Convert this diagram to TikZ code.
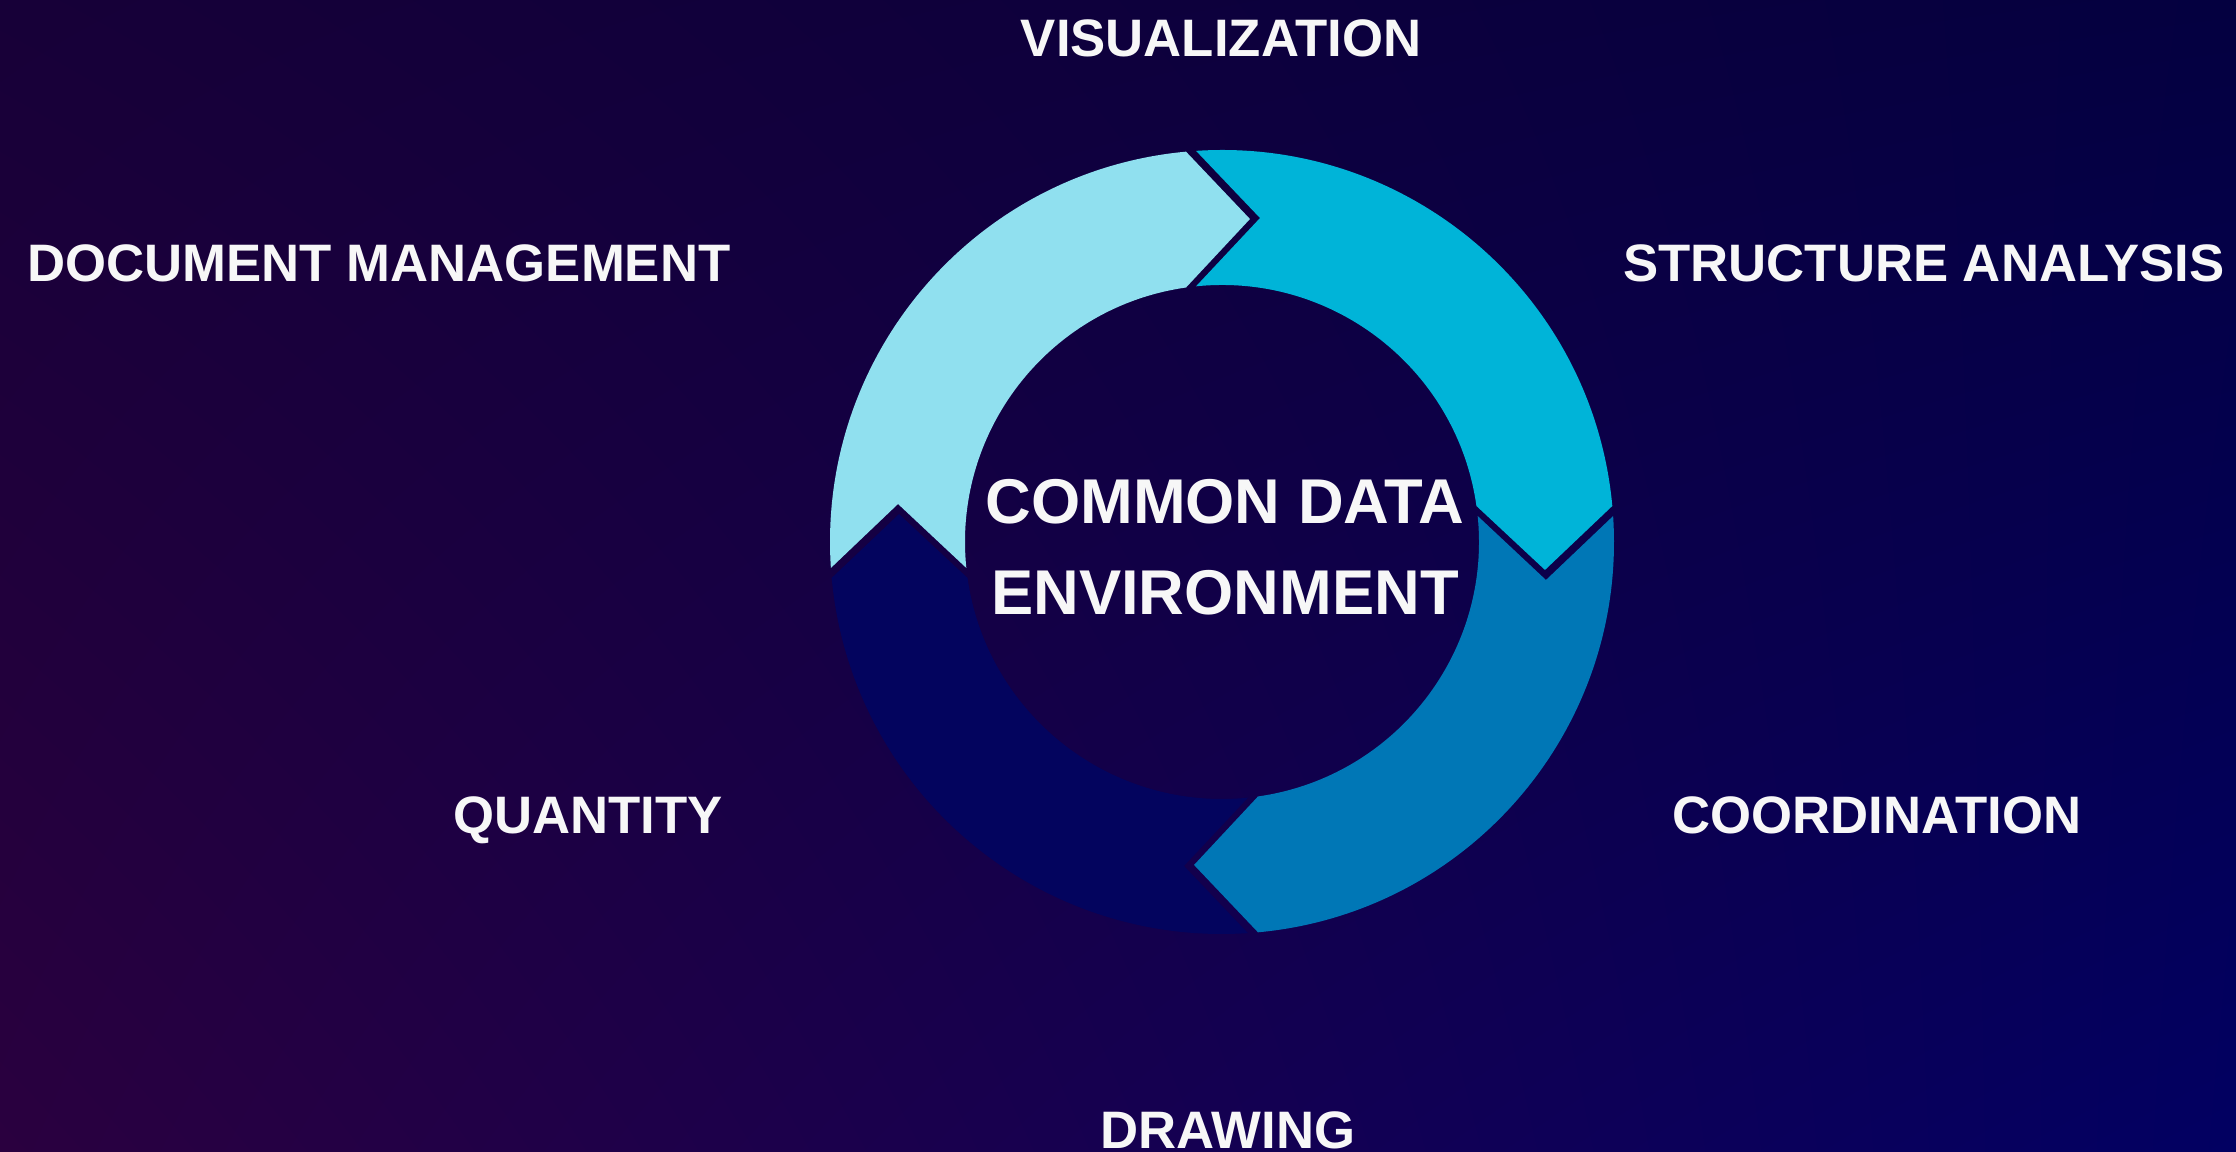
\documentclass[tikz,border=0pt]{standalone}
\usepackage{fontspec}
\setmainfont{Liberation Sans}
\usetikzlibrary{shadings}
\definecolor{bgTL}{HTML}{170038}
\definecolor{bgTR}{HTML}{040040}
\definecolor{bgBL}{HTML}{2A003F}
\definecolor{bgBR}{HTML}{020062}
\definecolor{segA}{HTML}{90E0EF}
\definecolor{segB}{HTML}{00B4D8}
\definecolor{segC}{HTML}{0077B6}
\definecolor{segD}{HTML}{03045E}
\definecolor{txtwhite}{HTML}{F7F7F7}

\begin{document}
\begin{tikzpicture}[
    lbl/.style={text=txtwhite, font=\bfseries\fontsize{15}{18}\selectfont, anchor=base, inner sep=0pt},
    hub/.style={text=txtwhite, font=\bfseries\fontsize{18}{25.8}\selectfont, align=center, inner sep=0pt}]
  \shade [upper left=bgTL, upper right=bgTR, lower left=bgBL, lower right=bgBR] (0,0) rectangle (22.36,11.52);
  \useasboundingbox (0,0) rectangle (22.36,11.52);
  \foreach \col/\rot in {segA/0, segB/-90, segC/-180, segD/-270}
    \fill [\col, shift={(12.22,6.10)}, rotate=\rot] (183.8:3.92) arc [radius=3.92, start angle=183.8, end angle=95.27]
      -- (85.05:3.242) -- (98.05:2.57) arc [radius=2.57, start angle=98.05, end angle=185.81] -- (173.31:3.262) -- cycle;
  \node [hub] (cde) at (12.25, 6.05) {COMMON DATA\\ENVIRONMENT};
  \node [lbl] (vis) at (12.21, 10.95) {VISUALIZATION};
  \node [lbl] (docman) at (3.79, 8.70) {DOCUMENT MANAGEMENT};
  \node [lbl] (struct) at (19.24, 8.70) {STRUCTURE ANALYSIS};
  \node [lbl] (qty) at (5.88, 3.18) {QUANTITY};
  \node [lbl] (coord) at (18.77, 3.18) {COORDINATION};
  \node [lbl] (drw) at (12.28, 0.03) {DRAWING};
\end{tikzpicture}
\end{document}
